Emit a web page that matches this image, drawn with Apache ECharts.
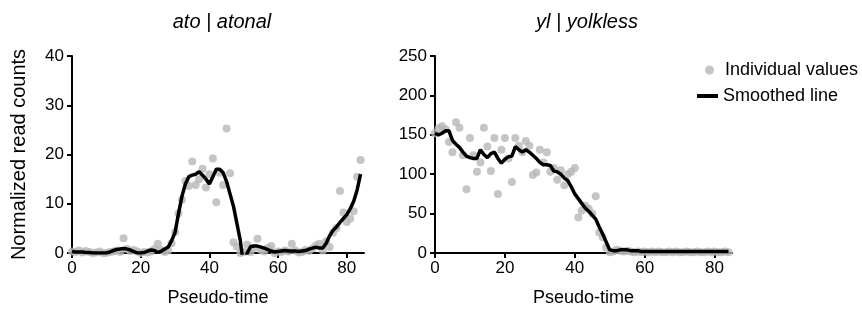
<!DOCTYPE html>
<html>
<head>
<meta charset="utf-8">
<script src="https://cdn.jsdelivr.net/npm/echarts@6/dist/echarts.min.js"></script>
<style>
  html, body { margin: 0; padding: 0; background: #fff; }
  #chart { width: 862px; height: 314px; }
</style>
</head>
<body>
<div id="chart"></div>
<script>
// pseudo-time runs 0..84, one value per step
var atoPoints = [0.3, 0.2, 0.5, 0.1, 0.4, 0.2, 0, 0.1, 0.3, 0, 0, 0.2, 0.3, 0.5, 0.2,
  3.0, 0.8, 0.4, 0.6, 0.3, 0, 0.2, 0.1, 0.3, 0.8, 1.9, 0.6, 0.2, 0.5, 2.0,
  4.2, 8.0, 10.8, 14.6, 13.6, 18.6, 13.8, 15.0, 17.1, 13.3, 16.0, 19.2, 10.3, 16.3, 13.8,
  25.3, 16.2, 2.2, 1.3, 0, 0.2, 1.7, 0.2, 1.0, 2.9, 0.6, 0.3, 1.0, 1.4, 0,
  0.3, 0.2, 0.5, 0.3, 1.9, 0.5, 0.1, 0.2, 0.6, 0.4, 0.9, 1.5, 1.9, 0.5, 2.4,
  1.2, 4.1, 5.1, 12.6, 8.2, 6.3, 7.0, 8.5, 15.5, 18.9]
var atoSmooth = [0.3, 0.2, 0.2, 0.2, 0.1, 0.1, 0, 0, 0, 0, 0, 0.2, 0.5, 0.7, 0.8,
  0.9, 0.8, 0.6, 0.3, 0, 0, 0.1, 0.4, 0.6, 0.5, 0.1, 0.4, 0.8, 1.2, 2.5,
  4.2, 8.0, 11.5, 14.0, 15.5, 15.8, 16.0, 16.5, 15.8, 15.0, 14.0, 15.5, 17.0, 17.0, 16.3,
  14.5, 12.0, 9.5, 6.0, 2.5, -3.0, 0, 1.3, 1.4, 1.4, 1.2, 1.0, 0.7, 0.4, 0.2,
  0.3, 0.4, 0.5, 0.4, 0.4, 0.4, 0.3, 0.4, 0.5, 0.8, 1.0, 1.2, 1.0, 1.0, 2.0,
  3.5, 4.6, 5.3, 6.2, 7.0, 7.8, 9.0, 10.5, 12.8, 16.0]

var ylPoints = [152, 158, 161, 157, 141, 128, 166, 159, 124, 81, 146, 124, 103, 115, 159,
  135, 104, 146, 75, 131, 146, 120, 90, 146, 136, 128, 142, 136, 99, 102,
  131, 115, 128, 103, 108, 93, 105, 86, 100, 103, 108, 45, 54, 60, 56,
  50, 72, 26, 20, 7, 1, 2, 4, 3, 2, 3, 2, 1, 2, 1,
  2, 1, 2, 1, 2, 1, 1, 2, 1, 2, 1, 1, 2, 1, 1,
  2, 1, 1, 2, 1, 2, 1, 1, 2, 1]
var ylSmooth = [152, 150, 152, 155, 155, 143, 138, 134, 128, 123, 121, 120, 120, 131, 125,
  121, 126, 128, 120, 114, 119, 122, 123, 135, 131, 128, 131, 128, 124, 120,
  115, 112, 112, 111, 104, 103, 100, 95, 92, 84, 75, 69, 63, 57, 53,
  48, 43, 33, 24, 14, 4, 3, 3, 4, 4, 4, 3, 3, 3, 2,
  2, 2, 2, 2, 2, 2, 2, 2, 2, 2, 2, 2, 2, 2, 2,
  2, 2, 2, 2, 2, 2, 2, 2, 2, 2]

var xTicks = [0, 20, 40, 60, 80]
var atoYTicks = [0, 10, 20, 30, 40]
var ylYTicks = [0, 50, 100, 150, 200, 250]

function pairs (arr) {
  return arr.map(function (v, i) { return [i, v] })
}

var font = 'Liberation Sans, Arial, sans-serif'
var axisStyle = {
  axisLine: { show: true, lineStyle: { color: '#000', width: 2 } },
  axisTick: { show: true, length: 5, lineStyle: { color: '#000', width: 2 } },
  splitLine: { show: false }
}

function xAxis (gridIndex) {
  return Object.assign({}, axisStyle, {
    type: 'value', gridIndex: gridIndex, min: 0, max: 85,
    name: 'Pseudo-time', nameLocation: 'middle', nameGap: 36,
    nameTextStyle: { color: '#000', fontSize: 18, fontFamily: font },
    axisTick: Object.assign({}, axisStyle.axisTick, { customValues: xTicks }),
    axisLabel: { customValues: xTicks, color: '#000', fontSize: 17, fontFamily: font, margin: 7 }
  })
}

function yAxis (gridIndex, max, ticks, name) {
  return Object.assign({}, axisStyle, {
    type: 'value', gridIndex: gridIndex, min: 0, max: max,
    name: name, nameLocation: 'middle', nameGap: 43,
    nameTextStyle: { color: '#000', fontSize: 20, fontFamily: font },
    axisTick: Object.assign({}, axisStyle.axisTick, { customValues: ticks }),
    axisLabel: { customValues: ticks, color: '#000', fontSize: 17, fontFamily: font, margin: 8 }
  })
}

var chart = echarts.init(document.getElementById('chart'))
var pointColor = '#b7b7b7'

var option = {
  animation: false,
  title: [
    { text: 'ato | atonal', left: 217, top: 7, textAlign: 'center',
      textStyle: { fontSize: 20, fontStyle: 'italic', fontWeight: 'normal', color: '#000', fontFamily: font } },
    { text: 'yl | yolkless', left: 582, top: 7, textAlign: 'center',
      textStyle: { fontSize: 20, fontStyle: 'italic', fontWeight: 'normal', color: '#000', fontFamily: font } }
  ],
  legend: [
    { data: [{ name: 'Individual values', icon: 'circle' }], left: 700, top: 56,
      itemWidth: 9, itemHeight: 9,
      textStyle: { fontSize: 18, color: '#000', fontFamily: font, padding: [0, 0, 0, 6] } },
    { data: [{ name: 'Smoothed line', icon: 'rect' }], left: 692, top: 82,
      itemWidth: 21, itemHeight: 4,
      textStyle: { fontSize: 18, color: '#000', fontFamily: font } }
  ],
  grid: [
    { left: 72, top: 56, width: 292, height: 197 },
    { left: 435, top: 56, width: 297, height: 197 }
  ],
  xAxis: [xAxis(0), xAxis(1)],
  yAxis: [
    yAxis(0, 40, atoYTicks, 'Normalized read counts'),
    yAxis(1, 250, ylYTicks, '')
  ],
  series: [
    { name: 'Individual values', type: 'scatter', xAxisIndex: 0, yAxisIndex: 0,
      data: pairs(atoPoints), symbolSize: 8, itemStyle: { color: pointColor } },
    { name: 'Smoothed line', type: 'line', xAxisIndex: 0, yAxisIndex: 0,
      data: pairs(atoSmooth), showSymbol: false, clip: true,
      lineStyle: { color: '#000', width: 3.5 }, itemStyle: { color: '#000' } },
    { name: 'Individual values', type: 'scatter', xAxisIndex: 1, yAxisIndex: 1,
      data: pairs(ylPoints), symbolSize: 8, itemStyle: { color: pointColor } },
    { name: 'Smoothed line', type: 'line', xAxisIndex: 1, yAxisIndex: 1,
      data: pairs(ylSmooth), showSymbol: false, clip: true,
      lineStyle: { color: '#000', width: 3.5 }, itemStyle: { color: '#000' } }
  ]
}
chart.setOption(option)
</script>
</body>
</html>
